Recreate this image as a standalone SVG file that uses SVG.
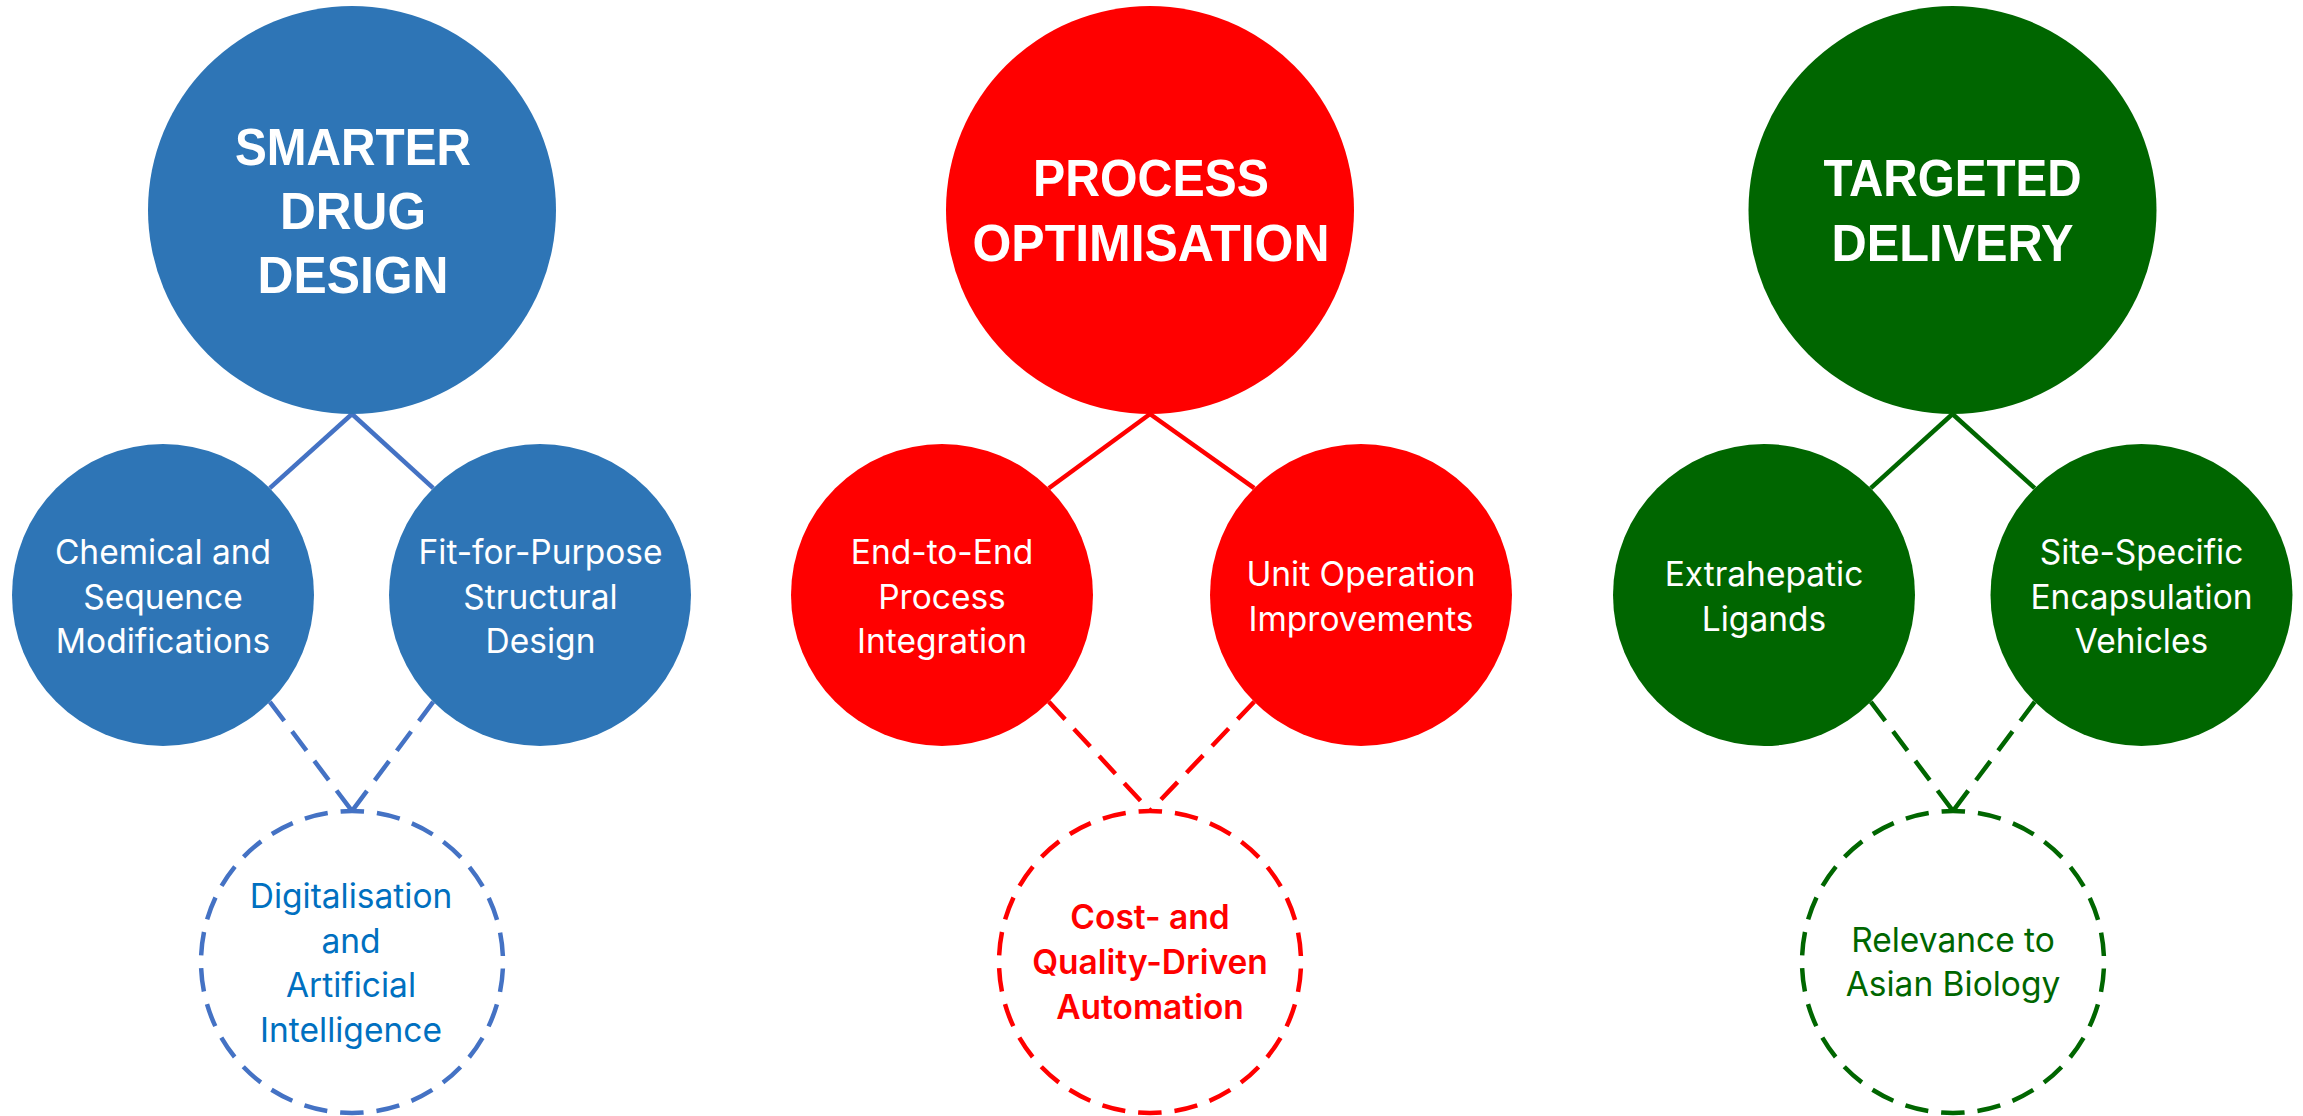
<svg xmlns="http://www.w3.org/2000/svg" width="2303" height="1116" viewBox="0 0 2303 1116">
<style>
.title{font-family:"Liberation Sans",Arial,sans-serif;font-weight:bold;font-size:51px;fill:#fff;text-anchor:middle}
.sub{font-family:Inter,"Liberation Sans",sans-serif;font-size:33.5px;fill:#fff;text-anchor:middle}
.dtxt{font-family:Inter,"Liberation Sans",sans-serif;font-size:33.5px;text-anchor:middle}
.ring{fill:#fff;stroke-width:4.5;stroke-dasharray:23.5 12.99;stroke-dashoffset:29.95}
.solid{stroke-width:4.5;fill:none}
.dash{stroke-width:4.5;fill:none;stroke-dasharray:24 13}
.blueL{stroke:#4472C4}
.redL{stroke:#FF0000}
.greenL{stroke:#006600}
</style>
<rect width="2303" height="1116" fill="#fff"/>
<g id="connectors">
<line class="solid blueL" x1="352" y1="414" x2="269.8" y2="488.2"/>
<line class="solid blueL" x1="352" y1="414" x2="433.2" y2="488.2"/>
<line class="dash blueL" x1="269.8" y1="701.8" x2="352" y2="811"/>
<line class="dash blueL" x1="433.2" y1="701.8" x2="352" y2="811"/>
<line class="solid redL" x1="1150" y1="414" x2="1048.8" y2="488.2"/>
<line class="solid redL" x1="1150" y1="414" x2="1254.2" y2="488.2"/>
<line class="dash redL" x1="1048.8" y1="701.8" x2="1150" y2="811"/>
<line class="dash redL" x1="1254.2" y1="701.8" x2="1150" y2="811"/>
<line class="solid greenL" x1="1952.5" y1="414" x2="1870.8" y2="488.2"/>
<line class="solid greenL" x1="1952.5" y1="414" x2="2034.7" y2="488.2"/>
<line class="dash greenL" x1="1870.8" y1="701.8" x2="1953" y2="811"/>
<line class="dash greenL" x1="2034.7" y1="701.8" x2="1953" y2="811"/>
</g>
<g id="smarter-drug-design">
<circle cx="352" cy="210" r="204" fill="#2E75B6"/>
<text class="title" x="353" y="165" textLength="236" lengthAdjust="spacingAndGlyphs">SMARTER</text>
<text class="title" x="353" y="229" textLength="146" lengthAdjust="spacingAndGlyphs">DRUG</text>
<text class="title" x="353" y="293" textLength="191" lengthAdjust="spacingAndGlyphs">DESIGN</text>
</g>
<g id="chemical-sequence">
<circle cx="163" cy="595" r="151" fill="#2E75B6"/>
<text class="sub" x="163" y="563.5">Chemical and</text>
<text class="sub" x="163" y="608.7">Sequence</text>
<text class="sub" x="163" y="653.4">Modifications</text>
</g>
<g id="fit-for-purpose">
<circle cx="540" cy="595" r="151" fill="#2E75B6"/>
<text class="sub" x="540.5" y="563.5">Fit-for-Purpose</text>
<text class="sub" x="540.5" y="608.7">Structural</text>
<text class="sub" x="540.5" y="653.4">Design</text>
</g>
<g id="digitalisation-ai">
<circle class="ring blueL" cx="352" cy="962" r="151"/>
<text class="dtxt" fill="#0070C0" x="351" y="908">Digitalisation</text>
<text class="dtxt" fill="#0070C0" x="351" y="952.5">and</text>
<text class="dtxt" fill="#0070C0" x="351" y="997">Artificial</text>
<text class="dtxt" fill="#0070C0" x="351" y="1042">Intelligence</text>
</g>
<g id="process-optimisation">
<circle cx="1150" cy="210" r="204" fill="#FF0000"/>
<text class="title" x="1151" y="196" textLength="236" lengthAdjust="spacingAndGlyphs">PROCESS</text>
<text class="title" x="1151" y="261" textLength="357" lengthAdjust="spacingAndGlyphs">OPTIMISATION</text>
</g>
<g id="end-to-end">
<circle cx="942" cy="595" r="151" fill="#FF0000"/>
<text class="sub" x="942" y="563.5">End-to-End</text>
<text class="sub" x="942" y="608.7">Process</text>
<text class="sub" x="942" y="653.4">Integration</text>
</g>
<g id="unit-operation">
<circle cx="1361" cy="595" r="151" fill="#FF0000"/>
<text class="sub" x="1361" y="586.3">Unit Operation</text>
<text class="sub" x="1361" y="631">Improvements</text>
</g>
<g id="cost-quality-automation">
<circle class="ring redL" cx="1150" cy="962" r="151"/>
<text class="dtxt" fill="#FF0000" font-weight="600" x="1150" y="929">Cost- and</text>
<text class="dtxt" fill="#FF0000" font-weight="600" x="1150" y="974">Quality-Driven</text>
<text class="dtxt" fill="#FF0000" font-weight="600" x="1150" y="1019">Automation</text>
</g>
<g id="targeted-delivery">
<circle cx="1952.5" cy="210" r="204" fill="#006600"/>
<text class="title" x="1952.5" y="196" textLength="258" lengthAdjust="spacingAndGlyphs">TARGETED</text>
<text class="title" x="1952.5" y="261" textLength="242" lengthAdjust="spacingAndGlyphs">DELIVERY</text>
</g>
<g id="extrahepatic-ligands">
<circle cx="1764" cy="595" r="151" fill="#006600"/>
<text class="sub" x="1764" y="586.3">Extrahepatic</text>
<text class="sub" x="1764" y="631">Ligands</text>
</g>
<g id="site-specific">
<circle cx="2141.5" cy="595" r="151" fill="#006600"/>
<text class="sub" x="2141.5" y="563.5">Site-Specific</text>
<text class="sub" x="2141.5" y="608.7">Encapsulation</text>
<text class="sub" x="2141.5" y="653.4">Vehicles</text>
</g>
<g id="asian-biology">
<circle class="ring greenL" cx="1953" cy="962" r="151"/>
<text class="dtxt" fill="#006600" x="1953" y="951.6">Relevance to</text>
<text class="dtxt" fill="#006600" x="1953" y="996">Asian Biology</text>
</g>
</svg>
